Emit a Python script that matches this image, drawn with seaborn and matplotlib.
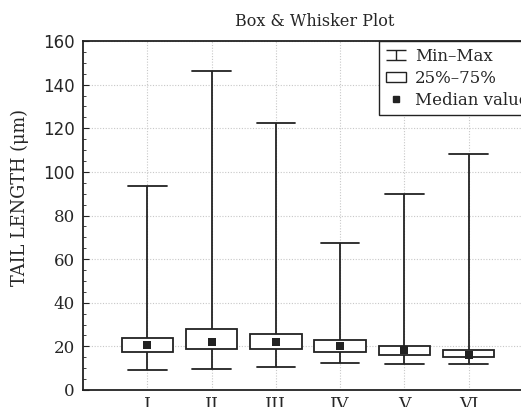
import numpy as np
import pandas as pd
import seaborn as sns
import matplotlib
matplotlib.use("Agg")
import matplotlib.pyplot as plt
from matplotlib.lines import Line2D
from matplotlib.patches import Patch
from matplotlib.path import Path
from matplotlib.ticker import MultipleLocator

# ---- data ----
groups = ["I", "II", "III", "IV", "V", "VI"]
mins = [9.2, 9.8, 10.4, 12.4, 11.8, 11.8]
q1s = [17.4, 18.7, 18.7, 17.3, 15.9, 15.0]
medians = [20.5, 21.9, 21.9, 20.0, 18.2, 15.9]
q3s = [23.9, 28.1, 25.8, 23.1, 20.3, 18.2]
maxs = [93.7, 146.3, 122.5, 67.5, 89.9, 108.4]
yticks = [0, 20, 40, 60, 80, 100, 120, 140, 160]
title = "Box & Whisker Plot"
ylabel = "TAIL LENGTH (\u03bcm)"
legend_labels = ["Min\u2013Max", "25%\u201375%", "Median value"]

# five-number summaries -> long table (linear percentiles reproduce them exactly)
rows = []
for g, a, b, c, d, e in zip(groups, mins, q1s, medians, q3s, maxs):
    for v in (a, b, c, d, e):
        rows.append({"group": g, "value": v})
df = pd.DataFrame(rows)
med_df = pd.DataFrame({"group": groups, "median": medians})

sns.set_theme(style="ticks")
plt.rcParams["font.family"] = ["DejaVu Serif"]
plt.rcParams["mathtext.default"] = "regular"

W, H = 521, 407
fig = plt.figure(figsize=(W / 100, H / 100), dpi=100)
L, R, T, B = 83, 533, 41, 390
ax = fig.add_axes([L / W, (H - B) / H, (R - L) / W, (B - T) / H])

ink = "#222222"
sns.boxplot(data=df, x="group", y="value", order=groups, whis=(0, 100),
            width=0.8, color="white", linecolor=ink, linewidth=1.3,
            showfliers=False, medianprops={"visible": False}, ax=ax, zorder=3)

# cap widths: 0.6 of a category slot
for ln in ax.lines:
    xd, yd = ln.get_xdata(), ln.get_ydata()
    if len(xd) == 2 and yd[0] == yd[1] and abs(xd[1] - xd[0]) < 0.79:
        c = (xd[0] + xd[1]) / 2
        ln.set_xdata([c - 0.3, c + 0.3])

sns.scatterplot(data=med_df, x="group", y="median", marker="s", s=28,
                color=ink, edgecolor=ink, linewidth=0, ax=ax, zorder=5,
                legend=False)

ax.set_xlim(-1, 6)
ax.set_ylim(0, 160)
ax.set_yticks(yticks)
ax.yaxis.set_minor_locator(MultipleLocator(5))
ax.set_xlabel("")
ax.set_ylabel(ylabel, fontsize=12.8)
ax.yaxis.set_label_coords((29 - L) / (R - L), (B - 197) / (B - T))

ax.grid(True, which="major", color="#c8c8c8", linestyle=(0, (1, 1.5)),
        linewidth=0.8, zorder=0)
ax.set_axisbelow(True)
for s in ax.spines.values():
    s.set_color(ink)
    s.set_linewidth(1.3)
ax.tick_params(axis="y", which="both", direction="in", color=ink)
ax.tick_params(axis="y", which="major", length=4, width=0.8, labelsize=12, pad=6)
ax.tick_params(axis="y", which="minor", length=2.5, width=0.6)
ax.tick_params(axis="x", length=0, labelsize=12.5, pad=4)

for lab in ax.get_yticklabels():
    try:
        v = float(lab.get_text().replace("\u2212", "-"))
    except ValueError:
        continue
    if v >= 100:
        lab.set_fontfamily(["DejaVu Sans"])

ax.text((314.5 - L) / (R - L), 1 + 19 / (B - T), title, transform=ax.transAxes,
        ha="center", va="center", fontsize=11.5)

ibeam = Path([(-1, 0.5), (1, 0.5), (0, 0.5), (0, -0.5), (-1, -0.5), (1, -0.5)],
             [Path.MOVETO, Path.LINETO, Path.MOVETO, Path.LINETO, Path.MOVETO, Path.LINETO])
handles = [
    Line2D([], [], linestyle="none", marker=ibeam, markersize=14.5,
           markeredgecolor=ink, markerfacecolor="none", markeredgewidth=1.0),
    Patch(facecolor="white", edgecolor=ink, linewidth=1.0),
    Line2D([], [], linestyle="none", marker="s", markersize=4,
           color=ink),
]
leg = ax.legend(handles, legend_labels, loc="upper right",
                bbox_to_anchor=(1 + 2 / (R - L), 1),
                borderaxespad=0, fontsize=12, frameon=True, fancybox=False,
                framealpha=1, edgecolor=ink, handlelength=1.2, handleheight=0.55,
                handletextpad=0.55, labelspacing=0.3, borderpad=0.4)
leg.get_frame().set_linewidth(1.0)
leg.set_zorder(10)

fig.savefig("out.png", dpi=100)
